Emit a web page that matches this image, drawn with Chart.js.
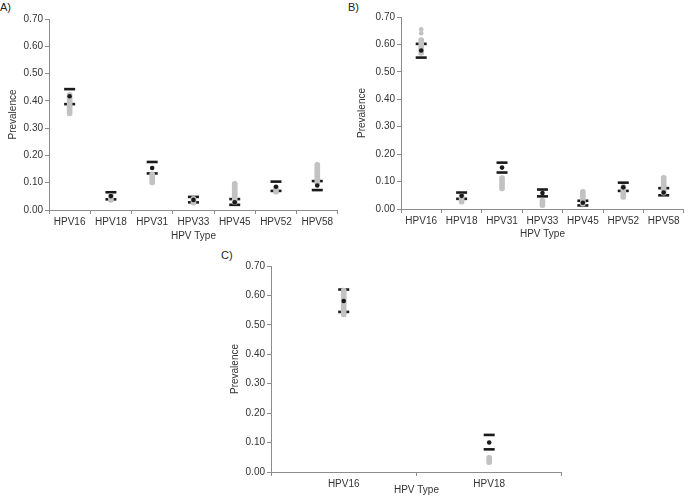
<!DOCTYPE html>
<html lang="en">
<head>
<meta charset="UTF-8">
<title>HPV prevalence</title>
<script src="https://cdn.jsdelivr.net/npm/chart.js"></script>
<style>
    body { margin: 0; background: #fff; font-family: "Liberation Sans", Arial, sans-serif; }
    #wrap { position: relative; width: 692px; height: 497px; overflow: hidden; }
    .panel { position: absolute; }
    .tag { position: absolute; font-size: 11px; color: #222; }
</style>
</head>
<body>
<div id="wrap">
    <div class="tag" style="left:0px;top:1px;">A)</div>
    <div class="tag" style="left:348px;top:1px;">B)</div>
    <div class="tag" style="left:221px;top:249px;">C)</div>
    <div class="panel" style="left:0px;top:0px;width:346px;height:245px;"><canvas id="chartA"></canvas></div>
    <div class="panel" style="left:346px;top:0px;width:346px;height:245px;"><canvas id="chartB"></canvas></div>
    <div class="panel" style="left:200px;top:245px;width:370px;height:252px;"><canvas id="chartC"></canvas></div>
</div>

<script>
    // categories
    const typesAB = ['HPV16', 'HPV18', 'HPV31', 'HPV33', 'HPV45', 'HPV52', 'HPV58'];
    const typesC = ['HPV16', 'HPV18'];

    // panel A
    const obsA = [0.417, 0.051, 0.154, 0.037, 0.028, 0.085, 0.090];
    const upA = [0.443, 0.065, 0.176, 0.048, 0.040, 0.104, 0.106];
    const lowA = [0.388, 0.039, 0.134, 0.028, 0.019, 0.070, 0.073];
    const simA = [[0.345, 0.430], [0.028, 0.060], [0.092, 0.140], [0.018, 0.050], [0.020, 0.105], [0.058, 0.090], [0.090, 0.175]];

    // panel B
    const obsB = [0.578, 0.048, 0.151, 0.058, 0.023, 0.079, 0.060];
    const upB = [0.602, 0.060, 0.169, 0.071, 0.030, 0.096, 0.076];
    const lowB = [0.552, 0.037, 0.133, 0.046, 0.013, 0.066, 0.050];
    const simB = [[0.560, 0.625], [0.018, 0.055], [0.066, 0.122], [0.005, 0.040], [0.010, 0.072], [0.035, 0.090], [0.050, 0.123]];
    const simOutB = [0.655, null, null, null, null, null, null];
    const simOutB2 = [0.641, null, null, null, null, null, null];

    // panel C
    const obsC = [0.581, 0.100];
    const upC = [0.620, 0.126];
    const lowC = [0.544, 0.077];
    const simC = [[0.527, 0.625], [0.025, 0.057]];

    const yTicks = [0, 0.1, 0.2, 0.3, 0.4, 0.5, 0.6, 0.7];

    const GRAY = '#c2c2c2';
    const BLACK = '#1a1a1a';
    const AXIS = '#8c8c8c';
    const TEXT = '#333333';
    const FONT = { family: '"Liberation Sans", Arial, sans-serif', size: 10 };

    function barMarks(data) {
        return {
            type: 'line', data: data, showLine: false, order: 3,
            pointStyle: 'line', pointRadius: 5.5, pointHoverRadius: 5.5,
            pointBorderWidth: 2.6, pointBorderColor: BLACK, pointBackgroundColor: BLACK
        };
    }

    function makeChart(id, labels, obs, up, low, sim, extra, cfg) {
        const datasets = [
            barMarks(up),
            barMarks(low),
            {
                type: 'bar', data: sim, order: 2,
                backgroundColor: GRAY, barThickness: 5,
                borderRadius: 2.5, borderSkipped: false
            },
            {
                type: 'line', data: obs, showLine: false, order: 1,
                pointStyle: 'circle', pointRadius: 2.3, pointBorderWidth: 0,
                pointBackgroundColor: BLACK
            }
        ];
        extra.forEach(function (d) {
            datasets.push({
                type: 'line', data: d, showLine: false, order: 2,
                pointStyle: 'circle', pointRadius: 2.3, pointBorderWidth: 0,
                pointBackgroundColor: GRAY
            });
        });

        return new Chart(document.getElementById(id), {
            type: 'bar',
            data: { labels: labels, datasets: datasets },
            options: {
                responsive: true,
                maintainAspectRatio: false,
                devicePixelRatio: 1,
                animation: false,
                events: [],
                layout: { padding: cfg.padding },
                plugins: { legend: { display: false }, tooltip: { enabled: false } },
                scales: {
                    x: {
                        type: 'category',
                        offset: true,
                        afterFit: function (s) { s.height = cfg.xHeight; },
                        border: { color: AXIS, width: 1 },
                        grid: { display: true, drawOnChartArea: false, drawTicks: true, tickLength: 4, offset: true, color: AXIS },
                        ticks: { color: TEXT, font: FONT, padding: 2, maxRotation: 0, autoSkip: false },
                        title: { display: true, text: 'HPV Type', color: TEXT, font: FONT, padding: { top: 0, bottom: cfg.xTitlePad } }
                    },
                    y: {
                        min: 0, max: 0.7,
                        afterFit: function (s) { s.width = cfg.yWidth; },
                        afterBuildTicks: function (s) { s.ticks = yTicks.map(function (v) { return { value: v }; }); },
                        border: { color: AXIS, width: 1 },
                        grid: { display: true, drawOnChartArea: false, drawTicks: true, tickLength: 4, color: AXIS },
                        ticks: { color: TEXT, font: FONT, padding: 2, callback: function (v) { return Number(v).toFixed(2); } },
                        title: { display: true, text: 'Prevalence', color: TEXT, font: FONT, padding: { top: cfg.yTitlePad, bottom: 0 } }
                    }
                }
            }
        });
    }

    makeChart('chartA', typesAB, obsA, upA, lowA, simA, [], {
        padding: { left: 0, right: 6, top: 19, bottom: 0 },
        xHeight: 35, yWidth: 49, xTitlePad: 3, yTitlePad: 7
    });
    makeChart('chartB', typesAB, obsB, upB, lowB, simB, [simOutB, simOutB2], {
        padding: { left: 0, right: 1, top: 17, bottom: 0 },
        xHeight: 36, yWidth: 55, xTitlePad: 5, yTitlePad: 10
    });
    makeChart('chartC', typesC, obsC, upC, lowC, simC, [], {
        padding: { left: 0, right: 7, top: 21, bottom: 0 },
        xHeight: 25, yWidth: 71, xTitlePad: 1, yTitlePad: 29
    });
</script>
</body>
</html>
